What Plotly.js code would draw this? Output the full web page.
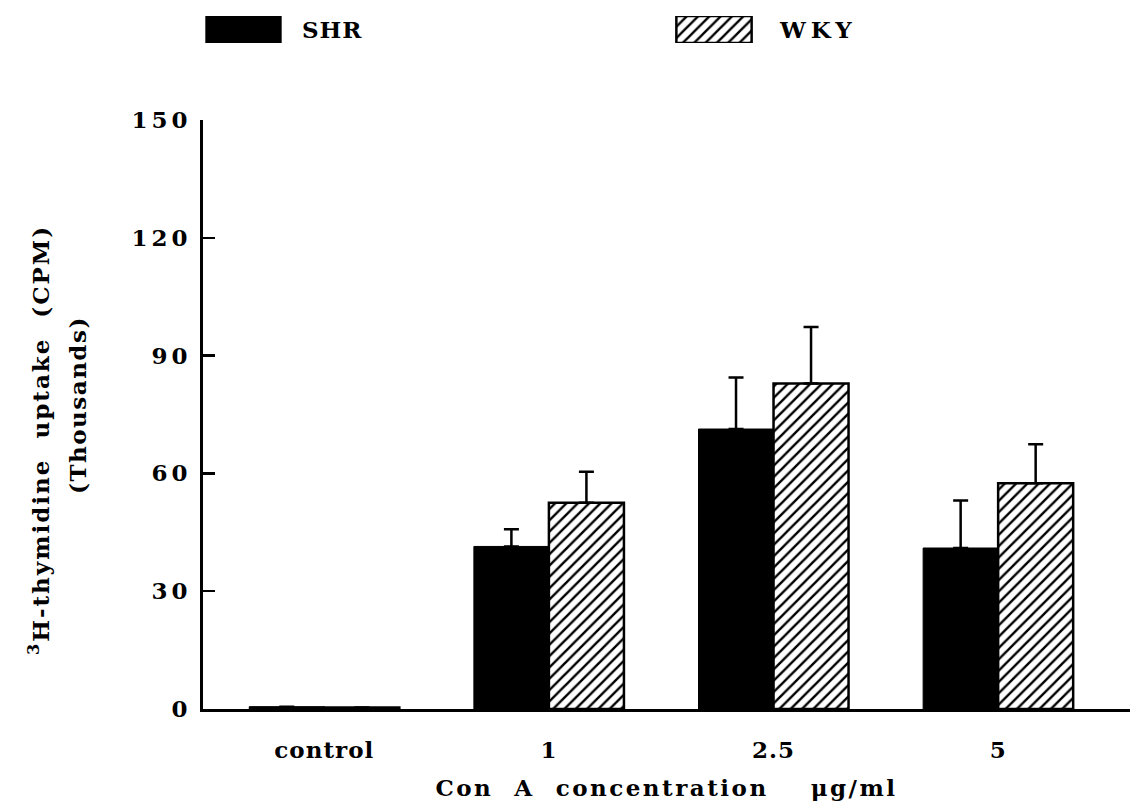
<!DOCTYPE html>
<html><head><meta charset="utf-8">
<script src="https://cdn.plot.ly/plotly-3.0.1.min.js"></script>
<style>
html,body{margin:0;padding:0;background:#fff;}
#chart{width:1133px;height:801px;}
.ytick text{letter-spacing:4px;}
.xtick text{letter-spacing:1px;}
</style></head><body><div id="chart"></div>
<script>
const categories = ["control", "1", "2.5", "5"];
const seriesNames = ["SHR", "WKY"];
const shrValues = [0.6, 41.4, 71.3, 41.0];
const shrErrors = [0, 4.4, 13.1, 12.1];
const wkyValues = [0.4, 52.5, 82.9, 57.5];
const wkyErrors = [0, 7.9, 14.4, 9.9];
const yTickValues = [0, 30, 60, 90, 120, 150];
const yTickLabels = ["0", "30", "60", "90", "120", "150"];
const xTitleText = "Con\u00a0\u00a0A\u00a0\u00a0concentration\u00a0\u00a0\u00a0\u00a0\u03bcg/ml";
const yTitleLine1 = "<sup>3</sup>H-thymidine\u00a0\u00a0uptake\u00a0\u00a0(CPM)";
const yTitleLine2 = "(Thousands)";

const W = 1133, H = 801;
const font = {family: "DejaVu Serif", size: 23, color: "#000", weight: "bold"};
const tickFont = {family: "DejaVu Serif", size: 23, color: "#000", weight: "bold"};
const titleFont = {family: "DejaVu Serif", size: 23, color: "#000", weight: "bold"};
const hatch = {shape: "/", fgcolor: "#000", bgcolor: "#fff", size: 8, solidity: 0.3};
const zeros = v => v.map(() => 0);
const spaced = (t, px) => '<span style="letter-spacing:' + px + 'px">' + t + '</span>';

const shrStyle = {color: "#000", line: {color: "#000", width: 1}};
const wkyStyle = {color: "#fff", pattern: hatch, line: {color: "#000", width: 2.5}};
const errStyle = {type: "data", symmetric: false, color: "#000", thickness: 2.5, width: 7.5};

const traces = [
  {type: "bar", name: seriesNames[0], x: categories, y: shrValues, marker: shrStyle,
   error_y: Object.assign({array: shrErrors, arrayminus: zeros(shrErrors)}, errStyle),
   showlegend: false, hoverinfo: "x+y"},
  {type: "bar", name: seriesNames[1], x: categories, y: wkyValues, marker: wkyStyle,
   error_y: Object.assign({array: wkyErrors, arrayminus: zeros(wkyErrors)}, errStyle),
   showlegend: false, hoverinfo: "x+y"},
  // legend swatches drawn on their own hidden axes
  {type: "bar", name: seriesNames[0], x: [seriesNames[0]], y: [1], xaxis: "x2", yaxis: "y2",
   width: 0.16, offset: -0.08, marker: shrStyle, showlegend: false, hoverinfo: "skip"},
  {type: "bar", name: seriesNames[1], x: [seriesNames[1]], y: [1], xaxis: "x2", yaxis: "y2",
   width: 0.16, offset: -0.08, marker: wkyStyle, showlegend: false, hoverinfo: "skip"}
];

const layout = {
  width: W, height: H,
  margin: {l: 0, r: 0, t: 0, b: 0},
  paper_bgcolor: "#fff", plot_bgcolor: "rgba(0,0,0,0)",
  font: font,
  barmode: "group", bargap: 0.332, bargroupgap: 0,
  showlegend: false,
  xaxis: {
    domain: [203 / W, 1130 / W],
    type: "category", categoryarray: categories,
    range: [-0.54, 3.587],
    showline: true, linecolor: "#000", linewidth: 3,
    ticks: "", showgrid: false, zeroline: false,
    tickfont: tickFont, ticklabelstandoff: 18,
    title: {text: spaced(xTitleText, 2.5), font: titleFont, standoff: 22}
  },
  yaxis: {
    domain: [(H - 709) / H, (H - 120) / H],
    range: [0, 150],
    tickvals: yTickValues, ticktext: yTickLabels,
    ticks: "inside", ticklen: 12, tickwidth: 2.5, tickcolor: "#000",
    showline: true, linecolor: "#000", linewidth: 3,
    showgrid: false, zeroline: false,
    tickfont: tickFont, ticklabelstandoff: 4
  },
  xaxis2: {
    domain: [8.25 / W, 949.25 / W], anchor: "y2",
    type: "category", categoryarray: seriesNames, range: [-0.5, 1.5],
    visible: false, fixedrange: true
  },
  yaxis2: {
    domain: [(H - 43) / H, (H - 16) / H], anchor: "x2",
    range: [0, 1], visible: false, fixedrange: true
  },
  annotations: [
    {xref: "paper", yref: "paper", x: 39 / W, y: (H - 440) / H, textangle: -90,
     text: spaced(yTitleLine1, 2), showarrow: false, xanchor: "center", yanchor: "middle", font: titleFont},
    {xref: "paper", yref: "paper", x: 77 / W, y: (H - 405) / H, textangle: -90,
     text: spaced(yTitleLine2, 1.5), showarrow: false, xanchor: "center", yanchor: "middle", font: titleFont},
    {xref: "x2", yref: "y2", x: seriesNames[0], y: 0.5, xshift: 56, xanchor: "left", yanchor: "middle",
     text: spaced(seriesNames[0], 1), showarrow: false, font: font},
    {xref: "x2", yref: "y2", x: seriesNames[1], y: 0.5, xshift: 63, xanchor: "left", yanchor: "middle",
     text: spaced(seriesNames[1], 5), showarrow: false, font: font}
  ]
};

Plotly.newPlot("chart", traces, layout, {displayModeBar: false, staticPlot: true});
</script></body></html>
